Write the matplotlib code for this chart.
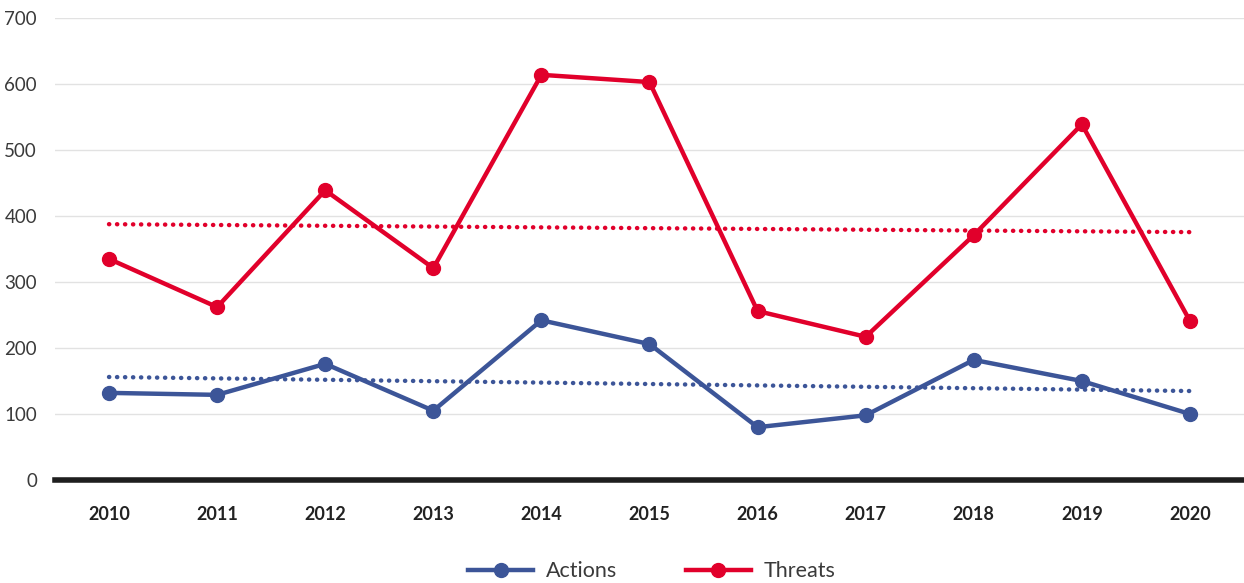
import matplotlib
matplotlib.use("Agg")
import matplotlib.pyplot as plt
import numpy as np
from matplotlib.lines import Line2D

years = ["2010", "2011", "2012", "2013", "2014", "2015", "2016", "2017", "2018", "2019", "2020"]
actions = [132, 129, 176, 105, 242, 206, 80, 98, 182, 150, 100]
threats = [335, 262, 439, 321, 614, 603, 256, 217, 371, 539, 241]
yticks = [0, 100, 200, 300, 400, 500, 600, 700]

BLUE = "#3C5598"
RED = "#E1002B"
TXT = "#3a3a3a"

plt.rcParams['font.family'] = ['Lato', 'DejaVu Sans']

fig = plt.figure(figsize=(12.44, 5.83), dpi=100)
ax = fig.add_axes([0.0442, 0.1767, 0.9558, 0.7923])

x = np.arange(len(years))

for vals, col in ((actions, BLUE), (threats, RED)):
    m, b = np.polyfit(x, vals, 1)
    ax.plot(x, m * x + b, color=col, lw=3.2, linestyle=(0, (0.05, 1.75)),
            dash_capstyle='round', zorder=3)

ax.plot(x, actions, color=BLUE, lw=3.2, marker='o', markersize=10, zorder=4,
        solid_capstyle='round')
ax.plot(x, threats, color=RED, lw=3.2, marker='o', markersize=10, zorder=4,
        solid_capstyle='round')

ax.set_xlim(-0.5, len(years) - 0.5)
ax.set_ylim(0, 700)
ax.set_yticks(yticks)
ax.set_yticklabels([str(v) for v in yticks], fontsize=13.5, color=TXT)
ax.set_xticks(x)
ax.set_xticklabels(years, fontsize=13, fontweight='bold', color='#222222')
ax.tick_params(axis='y', length=0, pad=13)
ax.tick_params(axis='x', length=0, pad=19)
ax.grid(axis='y', color='#e2e2e2', lw=1)
ax.set_axisbelow(True)
for s in ax.spines.values():
    s.set_visible(False)
ax.axhline(0, color='#1e1e1e', lw=4, zorder=5, clip_on=False)

handles = [Line2D([], [], color=BLUE, lw=3.2, marker='o', markersize=10),
           Line2D([], [], color=RED, lw=3.2, marker='o', markersize=10)]
fig.legend(handles, ["Actions", "Threats"], loc='center', bbox_to_anchor=(0.524, 0.02),
           ncol=2, frameon=False, fontsize=15.5, handlelength=3.0, columnspacing=3.2,
           handletextpad=0.6, labelcolor=TXT)

fig.savefig("out.png", dpi=100, facecolor='white')
